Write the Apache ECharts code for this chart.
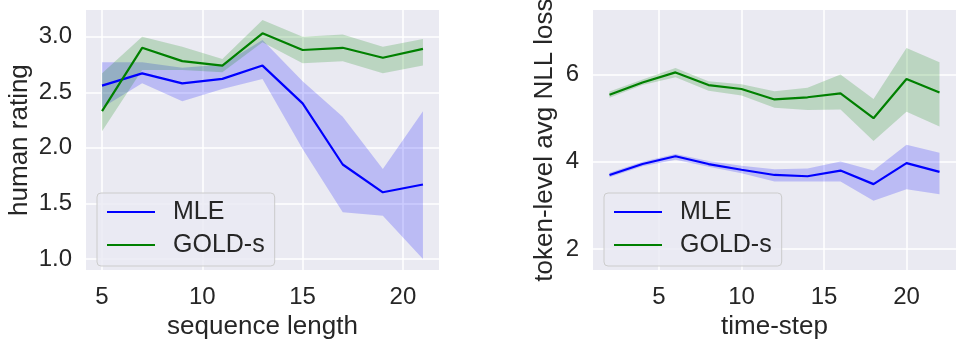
<!DOCTYPE html>
<html>
<head>
<meta charset="utf-8">
<script src="https://cdn.jsdelivr.net/npm/echarts@6/dist/echarts.min.js"></script>
<style>
  html, body { margin: 0; padding: 0; background: #fff; }
  #chart { width: 956px; height: 345px; }
</style>
</head>
<body>
<div id="chart"></div>
<script>
// left panel: human rating by sequence length
const seqLen = [5, 7, 9, 11, 13, 15, 17, 19, 21];
const ratingMle = [2.56, 2.67, 2.58, 2.62, 2.74, 2.40, 1.85, 1.60, 1.67];
const ratingMleLow = [2.36, 2.58, 2.42, 2.53, 2.62, 1.99, 1.42, 1.39, 1.00];
const ratingMleHigh = [2.77, 2.77, 2.72, 2.75, 2.97, 2.60, 2.28, 1.81, 2.33];
const ratingGold = [2.33, 2.90, 2.78, 2.74, 3.03, 2.88, 2.90, 2.81, 2.89];
const ratingGoldLow = [2.15, 2.70, 2.70, 2.68, 2.95, 2.76, 2.78, 2.67, 2.74];
const ratingGoldHigh = [2.67, 3.00, 2.91, 2.80, 3.15, 3.00, 3.02, 2.91, 2.98];

// right panel: token-level NLL by time-step
const timeStep = [2, 4, 6, 8, 10, 12, 14, 16, 18, 20, 22];
const nllMle = [3.70, 3.95, 4.13, 3.95, 3.82, 3.70, 3.67, 3.80, 3.49, 3.97, 3.77];
const nllMleLow = [3.65, 3.90, 4.05, 3.89, 3.74, 3.55, 3.55, 3.55, 3.11, 3.37, 3.26];
const nllMleHigh = [3.75, 4.00, 4.18, 4.02, 3.91, 3.83, 3.85, 4.01, 3.80, 4.39, 4.21];
const nllGold = [5.54, 5.82, 6.05, 5.76, 5.67, 5.43, 5.48, 5.57, 5.00, 5.90, 5.59];
const nllGoldLow = [5.47, 5.76, 5.94, 5.63, 5.52, 5.24, 5.19, 5.20, 4.48, 5.15, 4.81];
const nllGoldHigh = [5.61, 5.89, 6.15, 5.85, 5.78, 5.62, 5.70, 6.00, 5.44, 6.61, 6.28];

// tick labels
const seqTicks = [5, 10, 15, 20];
const ratingTicks = [1.0, 1.5, 2.0, 2.5, 3.0];
const stepTicks = [5, 10, 15, 20];
const nllTicks = [2, 4, 6];

const textColor = '#262626';
const font = "'Liberation Sans', Arial, sans-serif";

function zip(xs, ys) {
  return xs.map((x, i) => [x, ys[i]]);
}

function lineSeries(name, xs, ys, color, idx) {
  return {
    name: name,
    type: 'line',
    xAxisIndex: idx,
    yAxisIndex: idx,
    data: zip(xs, ys),
    symbol: 'none',
    z: 3,
    lineStyle: { color: color, width: 2.2 },
    itemStyle: { color: color }
  };
}

// confidence band drawn as one polygon through the axis scales
function bandSeries(xs, lo, hi, color, idx) {
  return {
    type: 'custom',
    xAxisIndex: idx,
    yAxisIndex: idx,
    silent: true,
    z: 2,
    data: xs.map((x, i) => [x, lo[i], hi[i]]),
    encode: { x: 0, y: [1, 2] },
    renderItem: function (params, api) {
      if (params.dataIndex !== 0) return;
      const top = xs.map((x, i) => api.coord([x, hi[i]]));
      const bottom = xs.map((x, i) => api.coord([x, lo[i]])).reverse();
      return {
        type: 'polygon',
        shape: { points: top.concat(bottom) },
        style: { fill: color }
      };
    }
  };
}

function xAxis(idx, name, min, max, ticks) {
  return {
    type: 'value',
    gridIndex: idx,
    min: min,
    max: max,
    name: name,
    nameLocation: 'middle',
    nameGap: 40,
    nameTextStyle: { fontSize: 26, color: textColor, fontFamily: font },
    axisLine: { show: false },
    axisTick: { show: false, customValues: ticks },
    axisLabel: { customValues: ticks, fontSize: 24, color: textColor, fontFamily: font, margin: 15 },
    splitLine: { show: true, lineStyle: { color: '#ffffff', width: 1.5 } }
  };
}

function yAxis(idx, name, min, max, ticks, fmt, gap) {
  return {
    type: 'value',
    gridIndex: idx,
    min: min,
    max: max,
    name: name,
    nameLocation: 'middle',
    nameGap: gap,
    nameTextStyle: { fontSize: 26, color: textColor, fontFamily: font },
    axisLine: { show: false },
    axisTick: { show: false, customValues: ticks },
    axisLabel: { customValues: ticks, fontSize: 24, color: textColor, fontFamily: font, margin: 14, formatter: fmt },
    splitLine: { show: true, lineStyle: { color: '#ffffff', width: 1.5 } }
  };
}

function legend(left) {
  return {
    left: left,
    top: 193,
    orient: 'vertical',
    data: ['MLE', 'GOLD-s'],
    icon: 'rect',
    itemWidth: 48,
    itemHeight: 2,
    itemGap: 5,
    padding: [5, 10, 7, 10],
    backgroundColor: 'rgba(234,234,242,0.8)',
    borderColor: '#cccccc',
    borderWidth: 1,
    borderRadius: 4,
    textStyle: { fontSize: 25, lineHeight: 28, color: textColor, fontFamily: font, padding: [0, 0, 0, 13] }
  };
}

const chart = echarts.init(document.getElementById('chart'), null, { renderer: 'canvas' });
chart.setOption({
  animation: false,
  backgroundColor: '#ffffff',
  grid: [
    { left: 86, top: 10, width: 353, height: 268, show: true, backgroundColor: '#EAEAF2', borderWidth: 0 },
    { left: 593, top: 10, width: 373, height: 268, show: true, backgroundColor: '#EAEAF2', borderWidth: 0 }
  ],
  xAxis: [
    xAxis(0, 'sequence length', 4.2, 21.8, seqTicks),
    xAxis(1, 'time-step', 1, 23, stepTicks)
  ],
  yAxis: [
    yAxis(0, 'human rating', 0.9, 3.24, ratingTicks, v => v.toFixed(1), 53),
    yAxis(1, 'token-level avg NLL loss', 1.52, 7.48, nllTicks, v => String(v), 35)
  ],
  legend: [legend(97), legend(604)],
  series: [
    bandSeries(seqLen, ratingMleLow, ratingMleHigh, 'rgba(0,0,255,0.2)', 0),
    bandSeries(seqLen, ratingGoldLow, ratingGoldHigh, 'rgba(0,128,0,0.2)', 0),
    lineSeries('MLE', seqLen, ratingMle, '#0000ff', 0),
    lineSeries('GOLD-s', seqLen, ratingGold, '#008000', 0),
    bandSeries(timeStep, nllMleLow, nllMleHigh, 'rgba(0,0,255,0.2)', 1),
    bandSeries(timeStep, nllGoldLow, nllGoldHigh, 'rgba(0,128,0,0.2)', 1),
    lineSeries('MLE', timeStep, nllMle, '#0000ff', 1),
    lineSeries('GOLD-s', timeStep, nllGold, '#008000', 1)
  ]
});
</script>
</body>
</html>
